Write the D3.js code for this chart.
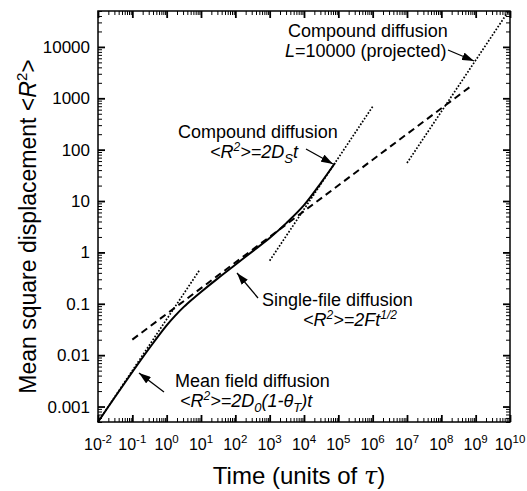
<!DOCTYPE html>
<html lang="en">
<head>
<meta charset="utf-8">
<title>Mean square displacement vs time</title>
<script src="https://d3js.org/d3.v7.min.js"></script>
<style>
body { margin: 0; background: #fff; }
text { font-family: "Liberation Sans", Arial, Helvetica, sans-serif; fill: #000; }
.frame { fill: none; stroke: #000; stroke-width: 1.5; }
.axis path { display: none; }
.axis line { stroke: #000; }
.major line { stroke-width: 1.8; }
.minor line { stroke-width: 1; }
.sim { fill: none; stroke: #000; stroke-width: 2; }
.dash { fill: none; stroke: #000; stroke-width: 2; stroke-dasharray: 7,4.5; }
.dot { fill: none; stroke: #000; stroke-width: 1.7; stroke-dasharray: 1.7,1.7; }
.arrow { stroke: #000; stroke-width: 1.3; }
</style>
</head>
<body>
<svg width="527" height="491"></svg>
<script>

// axis ticks
var timeExp = [-2, -1, 0, 1, 2, 3, 4, 5, 6, 7, 8, 9, 10];
var msdTicks = [0.001, 0.01, 0.1, 1, 10, 100, 1000, 10000];
var msdLabels = ["0.001", "0.01", "0.1", "1", "10", "100", "1000", "10000"];

// simulation curve (solid)
var simT = [0.01, 0.0316, 0.1, 0.316, 1, 1.78, 3.16, 5.62, 10, 31.6, 100, 316, 1000, 3160, 10000, 31600, 80000];
var simR = [0.0005, 0.00155, 0.0047, 0.0138, 0.038, 0.0589, 0.0871, 0.123, 0.170, 0.316, 0.575, 1.047, 1.905, 3.80, 8.32, 22.9, 55];

// mean field diffusion (dotted)
var mfT = [0.01, 9];
var mfR = [0.0005, 0.45];

// single-file diffusion (dashed)
var sfT = [0.1, 7.7e8];
var sfR = [0.0201, 1768];

// compound diffusion (dotted)
var cdT = [1000, 1e6];
var cdR = [0.69, 690];

// compound diffusion L=10000, projected (dotted)
var pjT = [1e7, 9.1e9];
var pjR = [55, 50000];

// annotations, in log10 data units: [log t, log R]
var notes = [
  {lines: [[3.534, 4.193, "Compound diffusion"], [3.447, 3.804, "L10000"]], from: [8.194, 3.940], to: [8.952, 3.726]},
  {lines: [[0.330, 2.227, "Compound diffusion"], [1.262, 1.838, "DS"]], from: [4.058, 2.013], to: [4.845, 1.721]},
  {lines: [[2.777, -1.043, "Single-file diffusion"], [3.971, -1.432, "F"]], from: [2.660, -0.887], to: [2.049, -0.401]},
  {lines: [[0.243, -2.620, "Mean field diffusion"], [0.388, -3.009, "D0"]], from: [-0.078, -2.717], to: [-0.806, -2.347]}
];

var svg = d3.select("svg"),
    margin = {top: 11, right: 17, bottom: 69, left: 98},
    width = +svg.attr("width") - margin.left - margin.right,
    height = +svg.attr("height") - margin.top - margin.bottom;

var x = d3.scaleLog().domain([1e-2, 1e10]).range([0, width]),
    y = d3.scaleLog().domain([5e-4, 5e4]).range([height, 0]);

svg.append("defs").append("marker")
    .attr("id", "head")
    .attr("markerUnits", "userSpaceOnUse")
    .attr("markerWidth", 12).attr("markerHeight", 8)
    .attr("refX", 12).attr("refY", 4)
    .attr("orient", "auto")
  .append("path")
    .attr("d", "M0,0L12,4L0,8z")
    .attr("fill", "#000");

var g = svg.append("g")
    .attr("transform", "translate(" + margin.left + "," + margin.top + ")");

// tick values
var majorX = timeExp.map(function(e) { return Math.pow(10, e); });
var minorX = [];
timeExp.slice(0, -1).forEach(function(e) {
  for (var k = 2; k < 10; k++) minorX.push(k * Math.pow(10, e));
});
var minorY = [];
for (var e = -4; e <= 4; e++) {
  for (var k = 2; k < 10; k++) {
    var v = k * Math.pow(10, e);
    if (v >= 5e-4 && v <= 5e4) minorY.push(v);
  }
}

function addAxis(axis, cls, tr) {
  g.append("g").attr("class", "axis " + cls)
      .attr("transform", tr || null)
      .call(axis.tickFormat("").tickSizeOuter(0));
}
addAxis(d3.axisBottom(x).tickValues(majorX).tickSize(-7), "major", "translate(0," + height + ")");
addAxis(d3.axisBottom(x).tickValues(minorX).tickSize(-4), "minor", "translate(0," + height + ")");
addAxis(d3.axisTop(x).tickValues(majorX).tickSize(-7), "major");
addAxis(d3.axisTop(x).tickValues(minorX).tickSize(-4), "minor");
addAxis(d3.axisLeft(y).tickValues(msdTicks).tickSize(-7), "major");
addAxis(d3.axisLeft(y).tickValues(minorY).tickSize(-4), "minor");
addAxis(d3.axisRight(y).tickValues(msdTicks).tickSize(-7), "major", "translate(" + width + ",0)");
addAxis(d3.axisRight(y).tickValues(minorY).tickSize(-4), "minor", "translate(" + width + ",0)");

g.append("rect").attr("class", "frame")
    .attr("width", width).attr("height", height);

// x tick labels 10^n
var xl = g.append("g").selectAll("text")
    .data(timeExp)
  .enter().append("text")
    .attr("x", function(d) { return x(Math.pow(10, d)); })
    .attr("y", height + 28)
    .attr("text-anchor", "middle")
    .style("font-size", "16px");
xl.append("tspan").text("10");
xl.append("tspan").attr("dy", -7).style("font-size", "11.5px").text(function(d) { return d; });

// y tick labels
g.append("g").selectAll("text")
    .data(msdTicks)
  .enter().append("text")
    .attr("x", -8)
    .attr("y", function(d) { return y(d) + 6; })
    .attr("text-anchor", "end")
    .style("font-size", "17px")
    .text(function(d, i) { return msdLabels[i]; });

// axis titles
var xt = g.append("text")
    .attr("x", 201).attr("y", height + 62)
    .attr("text-anchor", "middle")
    .style("font-size", "24px");
xt.append("tspan").text("Time (units of ");
xt.append("tspan").style("font-style", "italic").style("font-family", "'DejaVu Serif', serif").text("\u03c4");
xt.append("tspan").text(")");

var yt = g.append("text")
    .attr("transform", "translate(-62," + (height / 2 + 10) + ") rotate(-90)")
    .attr("text-anchor", "middle")
    .style("font-size", "23px");
yt.append("tspan").text("Mean square displacement <");
yt.append("tspan").style("font-style", "italic").text("R");
yt.append("tspan").attr("dy", -9).style("font-size", "15px").text("2");
yt.append("tspan").attr("dy", 9).text(">");

// curves
var line = d3.line()
    .x(function(d) { return x(d[0]); })
    .y(function(d) { return y(d[1]); });

function pairs(a, b) { return a.map(function(v, i) { return [v, b[i]]; }); }

g.append("path").attr("class", "dot").attr("d", line(pairs(mfT, mfR)));
g.append("path").attr("class", "dot").attr("d", line(pairs(cdT, cdR)));
g.append("path").attr("class", "dot").attr("d", line(pairs(pjT, pjR)));
g.append("path").attr("class", "dash").attr("d", line(pairs(sfT, sfR)));
g.append("path").attr("class", "sim")
    .attr("d", line.curve(d3.curveCatmullRom)(pairs(simT, simR)));

// annotations
function px(p) { return [x(Math.pow(10, p[0])), y(Math.pow(10, p[1]))]; }

function formula(t, kind) {
  // "<R^2>=..." in italics
  t.style("font-style", "italic");
  t.append("tspan").text("<R");
  t.append("tspan").attr("dy", -7).style("font-size", "12px").text("2");
  t.append("tspan").attr("dy", 7).text(">=");
  if (kind === "DS") {
    t.append("tspan").text("2D");
    t.append("tspan").attr("dy", 5).style("font-size", "13px").text("S");
    t.append("tspan").attr("dy", -5).text("t");
  } else if (kind === "F") {
    t.append("tspan").text("2Ft");
    t.append("tspan").attr("dy", -7).style("font-size", "12px").text("1/2");
  } else if (kind === "D0") {
    t.append("tspan").text("2D");
    t.append("tspan").attr("dy", 5).style("font-size", "13px").text("0");
    t.append("tspan").attr("dy", -5).text("(1-\u03b8");
    t.append("tspan").attr("dy", 5).style("font-size", "13px").text("T");
    t.append("tspan").attr("dy", -5).text(")t");
  }
}

notes.forEach(function(n) {
  n.lines.forEach(function(l) {
    var p = px(l);
    var t = g.append("text").attr("x", p[0]).attr("y", p[1]).style("font-size", "18px");
    if (l[2] === "L10000") {
      t.append("tspan").style("font-style", "italic").text("L");
      t.append("tspan").text("=10000 (projected)");
    } else if (l[2] === "DS" || l[2] === "F" || l[2] === "D0") {
      formula(t, l[2]);
    } else {
      t.text(l[2]);
    }
  });
  var a = px(n.from), b = px(n.to);
  g.append("line").attr("class", "arrow")
      .attr("x1", a[0]).attr("y1", a[1])
      .attr("x2", b[0]).attr("y2", b[1])
      .attr("marker-end", "url(#head)");
});

</script>
</body>
</html>
